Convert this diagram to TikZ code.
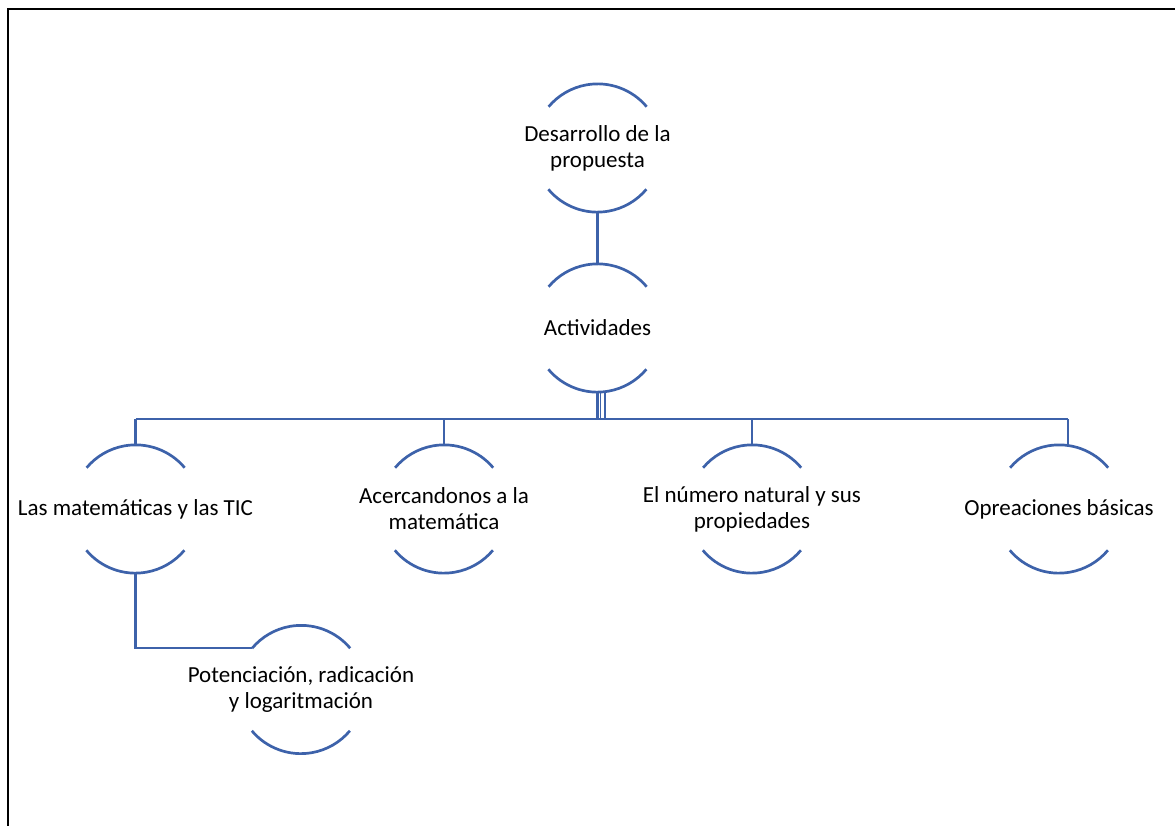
\documentclass[tikz,border=0pt]{standalone}
\usepackage{fontspec}
\setmainfont{Carlito}
\definecolor{smblue}{RGB}{61,98,170}
\begin{document}
\begin{tikzpicture}[x=1pt,y=1pt,
  circ/.style={circle,minimum size=128pt,inner sep=0pt,draw=none},
  lbl/.style={align=center,font=\fontsize{23}{26}\selectfont,inner sep=0pt},
  arcline/.style={draw=smblue,line width=2.7pt},
  conn/.style={draw=smblue,line width=2.4pt}]
\useasboundingbox (0,0) rectangle (1175,-825);
\draw[line width=2pt] (8,-830) -- (8,-9) -- (1180,-9);
% nodes
\node[circ] (top) at (597.5,-148) {};
\node[circ] (act) at (597.5,-328) {};
\node[circ] (mat) at (135.5,-509) {};
\node[circ] (ace) at (444,-509) {};
\node[circ] (num) at (752,-509) {};
\node[circ] (ope) at (1059,-509) {};
\node[circ] (pot) at (301,-689.5) {};
\node[lbl] (top-t) at (top) {Desarrollo de la\\propuesta};
\node[lbl] (act-t) at (act) {Actividades};
\node[lbl] (mat-t) at (mat) {Las matemáticas y las TIC};
\node[lbl] (ace-t) at (ace) {Acercandonos a la\\matemática};
\node[lbl] (num-t) at (num) {El número natural y sus\\propiedades};
\node[lbl] (ope-t) at (ope) {Opreaciones básicas};
\node[lbl] (pot-t) at (pot) {Potenciación, radicación\\y logaritmación};
\foreach \n in {top,act,mat,ace,num,ope,pot}{
  \draw[arcline] (\n.40) arc[start angle=40,end angle=140,radius=64pt];
  \draw[arcline] (\n.220) arc[start angle=220,end angle=320,radius=64pt];
}
% connectors
\coordinate (busL) at (135.5,-419);
\coordinate (busR) at (1068,-419);
\draw[conn] (top.south) -- (act.north);
\draw[conn] (act.south) -- (act.south |- busL);
\draw[conn,line width=1.8pt] ([xshift=3pt]act.south) -- ([xshift=3pt]act.south |- busL);
\draw[conn,line width=1.8pt] ([xshift=7.5pt]act.south) -- ([xshift=7.5pt]act.south |- busL);
\draw[conn] (busL) -- (busR);
\draw[conn] (busL) -- (mat.north);
\draw[conn] (ace.north |- busL) -- (ace.north);
\draw[conn] (num.north |- busL) -- (num.north);
\draw[conn] (busR) -- ([yshift=-0.6pt]busR |- ope.north);
\draw[conn] (mat.south) |- (pot.140);
\end{tikzpicture}
\end{document}
